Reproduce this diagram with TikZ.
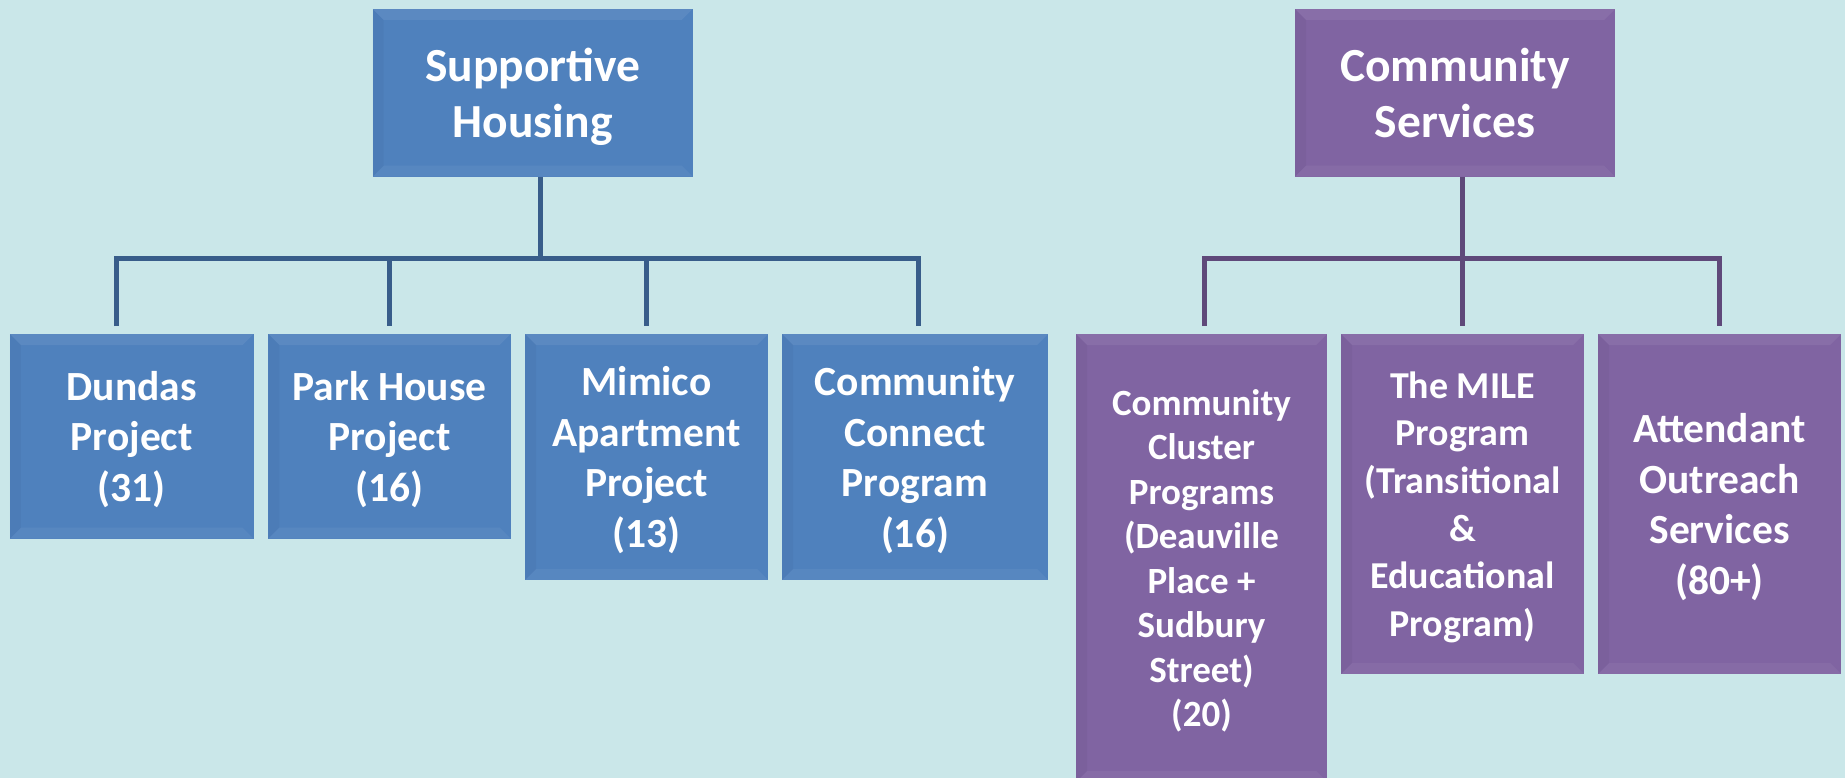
\documentclass[tikz,border=0pt]{standalone}
\usepackage{fontspec}
\setmainfont{Carlito}
\definecolor{bgc}{HTML}{CAE7E9}
\definecolor{boxblue}{HTML}{4F81BD}
\definecolor{lineblue}{HTML}{385D8A}
\definecolor{boxpurple}{HTML}{8064A2}
\definecolor{linepurple}{HTML}{5F497A}
\tikzset{
  bevel/.style={path picture={
    \fill[white,opacity=0.07] (path picture bounding box.north west) -- (path picture bounding box.north east)
      -- ([xshift=-11bp,yshift=-11bp]path picture bounding box.north east)
      -- ([xshift=11bp,yshift=-11bp]path picture bounding box.north west) -- cycle;
    \fill[white,opacity=0.05] (path picture bounding box.south west) -- (path picture bounding box.south east)
      -- ([xshift=-11bp,yshift=11bp]path picture bounding box.south east)
      -- ([xshift=11bp,yshift=11bp]path picture bounding box.south west) -- cycle;
    \fill[black,opacity=0.03] (path picture bounding box.north west) -- ([xshift=11bp,yshift=-11bp]path picture bounding box.north west)
      -- ([xshift=11bp,yshift=11bp]path picture bounding box.south west) -- (path picture bounding box.south west) -- cycle;
  }},
  bluebox/.style={fill=boxblue, draw=none, inner sep=0pt, text=white, align=center, text depth=0pt, bevel},
  purplebox/.style={fill=boxpurple, draw=none, inner sep=0pt, text=white, align=center, text depth=0pt, bevel},
  blueline/.style={draw=lineblue, line width=5bp, line join=miter},
  purpleline/.style={draw=linepurple, line width=5bp, line join=miter},
  topfont/.style={font=\bfseries\fontsize{47.5bp}{55.7bp}\selectfont},
  childfont/.style={font=\bfseries\fontsize{41.5bp}{50.5bp}\selectfont},
  clusterfont/.style={font=\bfseries\fontsize{37bp}{44.5bp}\selectfont},
  milefont/.style={font=\bfseries\fontsize{38bp}{47.6bp}\selectfont},
}
\begin{document}
\begin{tikzpicture}[x=1bp,y=-1bp]
\clip (0,0) rectangle (1845,778);
\fill[bgc] (0,0) rectangle (1845,778);
\useasboundingbox (0,0) rectangle (1845,778);

% top boxes
\node[bluebox, topfont, minimum width=320bp, minimum height=167.7bp] (sh) at (532.7,92.85) {Supportive\\Housing};
\node[purplebox, topfont, minimum width=320bp, minimum height=167.7bp] (cs) at (1455,92.85) {Community\\Services};

% left children
\node[bluebox, childfont, minimum width=243.5bp, minimum height=204.5bp] (dundas) at (131.75,436.25) {Dundas\\Project\\(31)};
\node[bluebox, childfont, minimum width=242.4bp, minimum height=204.5bp] (park) at (389.5,436.25) {Park House\\Project\\(16)};
\node[bluebox, childfont, minimum width=243bp, minimum height=246bp] (mimico) at (646.5,457) {Mimico\\Apartment\\Project\\(13)};
\node[bluebox, childfont, minimum width=266bp, minimum height=246bp] (cc) at (915,457) {Community\\Connect\\Program\\(16)};

% right children
\node[purplebox, clusterfont, minimum width=251bp, minimum height=448bp] (cluster) at (1201.5,558) {Community\\Cluster\\Programs\\(Deauville\\Place +\\Sudbury\\Street)\\(20)};
\node[purplebox, milefont, minimum width=243bp, minimum height=340bp] (mile) at (1462.5,504) {The MILE\\Program\\(Transitional\\\&\\Educational\\Program)};
\node[purplebox, childfont, minimum width=243bp, minimum height=340bp] (att) at (1719.5,504) {Attendant\\Outreach\\Services\\(80+)};

% blue connectors
\coordinate (bj) at (540,258.5);
\coordinate (b1) at (116,258.5);
\coordinate (b2) at (389,258.5);
\coordinate (b3) at (646,258.5);
\coordinate (b4) at (918,258.5);
\draw[blueline] (sh.south -| bj) -- (bj);
\draw[blueline] (b1 |- 0,326) -- (b1) -- (b4) -- (b4 |- 0,326);
\draw[blueline] (b2) -- (b2 |- 0,326);
\draw[blueline] (b3) -- (b3 |- 0,326);

% purple connectors
\coordinate (pj) at (1462.3,258.3);
\coordinate (p1) at (1204.8,258.3);
\coordinate (p3) at (1719,258.3);
\draw[purpleline] (cs.south -| pj) -- (pj |- 0,326);
\draw[purpleline] (p1 |- 0,326) -- (p1) -- (p3) -- (p3 |- 0,326);
\end{tikzpicture}
\end{document}
